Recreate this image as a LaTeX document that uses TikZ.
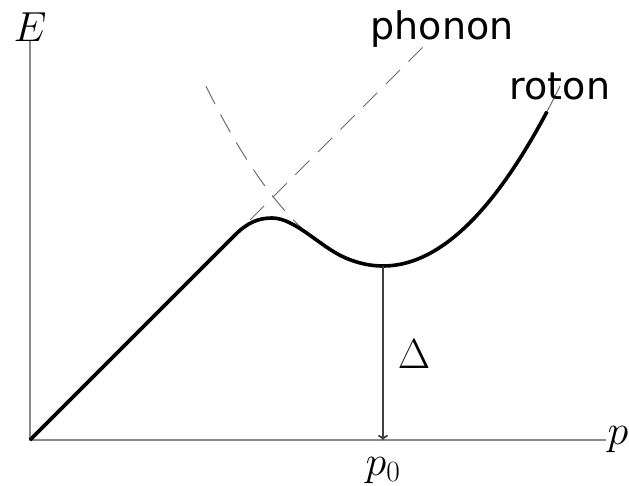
\documentclass[tikz,border=0pt]{standalone}
\usepackage{fix-cm}
\usepackage{fontspec}
\newfontfamily\dejavu{DejaVu Sans}
\usetikzlibrary{arrows.meta, positioning, calc}
\definecolor{caxis}{HTML}{8A8A8A}
\definecolor{cdash}{HTML}{6E6E6E}
\definecolor{carrow}{HTML}{404040}
\tikzset{
  axis/.style={draw=caxis, line width=1.2pt},
  guide/.style={draw=cdash, line width=1pt},
  branch/.style={draw=black, line width=3.6pt, line join=round},
  gaparrow/.style={-{To[length=5pt, width=10pt]}, draw=carrow, line width=1.8pt},
  mathlabel/.style={font=\fontsize{42}{48}\selectfont, inner sep=0pt},
  curvelabel/.style={font=\dejavu\fontsize{38}{44}\selectfont, inner sep=0pt},
}

\begin{document}
\begin{tikzpicture}[x=1pt, y=-1pt]
  \useasboundingbox (0,0) rectangle (629,486);
  % ---- axes ----
  \coordinate (origin) at (30,440);
  \coordinate (etop) at (30,40);
  \coordinate (pend) at (606,440);
  \draw[axis] (etop) -- (origin) -- (pend);
  \node[mathlabel] (elabel) at (30,27.5) {$E$};
  \node[mathlabel] (plabel) at (618,440) {$p$};
  % ---- phonon and roton guides ----
  \coordinate (phlow) at (250,220);
  \coordinate (phhigh) at (431,39);
  \draw[guide, dash pattern=on 20pt off 12pt] (phlow) -- (phhigh);
  \draw[guide, dash pattern=on 20pt off 12pt] plot[domain=206:383, samples=40] (\x, {266-((\x-383)/13.2)^2});
  \draw[guide] plot[domain=383:560, samples=40] (\x, {266-((\x-383)/13.2)^2});
  \node[curvelabel, anchor=base] (phonon) at (442,40) {phonon};
  \node[curvelabel, anchor=base] (roton) at (560,100) {roton};
  % ---- dispersion curve ----
  \coordinate (bend) at (235,235);
  \coordinate (maxon) at (272,218);
  \coordinate (joint) at (345,257.7);
  \draw[branch] (origin) -- (bend) .. controls +(12,-12) and +(-14,0) .. (maxon)
    .. controls +(23,0) and +(-25,-10.9) .. (joint)
    -- plot[domain=345:547, samples=40] (\x, {266-((\x-383)/13.2)^2});
  % ---- gap ----
  \coordinate (rotmin) at (383,266);
  \coordinate (p0axis) at (383,440);
  \draw[gaparrow] (rotmin) -- (p0axis);
  \node[mathlabel, below=17pt of p0axis] (p0) {$p_0$};
  \node[mathlabel] (gap) at (414,354) {$\Delta$};
\end{tikzpicture}
\end{document}
